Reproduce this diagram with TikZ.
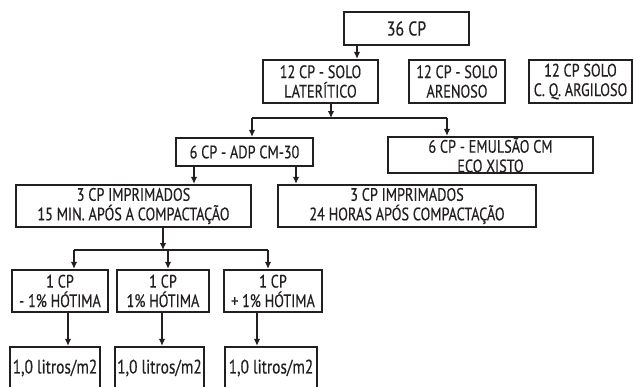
\documentclass[tikz,border=0pt]{standalone}
\usepackage{fontspec}
\setmainfont{PT Sans}[FakeStretch=0.79,FakeBold=0.4]
\usetikzlibrary{arrows.meta}
\definecolor{ink}{HTML}{231F20}

\begin{document}
\begin{tikzpicture}[x=1pt,y=-1pt,line join=miter,
  box/.style={draw=ink,line width=2.2pt,align=center,inner sep=0pt,text=ink,
    font=\fontsize{18}{19.5}\selectfont},
  arr/.style={draw=ink,line width=2pt,-{Latex[length=7pt,width=6.5pt]}},
  link/.style={draw=ink,line width=2pt}]
\useasboundingbox (0,0) rectangle (634,386);

% top rows
\node[box,minimum width=125pt,minimum height=33pt,font=\fontsize{20}{20}\selectfont] (top) at (406.5,28.5) {36 CP};
\node[box,minimum width=115pt,minimum height=43pt] (lat) at (320.5,81.5) {12 CP - SOLO\\LATERÍTICO};
\node[box,minimum width=96pt,minimum height=43pt] (are) at (457,81.5) {12 CP - SOLO\\ARENOSO};
\node[box,minimum width=103pt,minimum height=43pt] (arg) at (580.5,81.5) {12 CP SOLO\\C. Q. ARGILOSO};

\node[box,minimum width=137pt,minimum height=28pt] (adp) at (244.5,152) {6 CP - ADP CM-30};
\node[box,minimum width=205pt,minimum height=36pt] (emu) at (490.5,155) {6 CP - EMULSÃO CM\\ECO XISTO};

\node[box,minimum width=235pt,minimum height=42pt] (m15) at (133.5,206) {3 CP IMPRIMADOS\\15 MIN. APÓS A COMPACTAÇÃO};
\node[box,minimum width=258pt,minimum height=42pt] (h24) at (407,206) {3 CP IMPRIMADOS\\24 HORAS APÓS COMPACTAÇÃO};

% moisture and rate rows
\node[box,minimum width=96pt,minimum height=42pt] (c1) at (60,291) {1 CP\\- 1\% HÓTIMA};
\node[box,minimum width=92pt,minimum height=42pt] (c2) at (163,291) {1 CP\\1\% HÓTIMA};
\node[box,minimum width=98pt,minimum height=42pt] (c3) at (273,291) {1 CP\\+ 1\% HÓTIMA};

\node[box,minimum width=90pt,minimum height=42pt,font=\fontsize{19.5}{20}\selectfont] (l1) at (55,368) {1,0 litros/m2};
\node[box,minimum width=89pt,minimum height=42pt,font=\fontsize{19.5}{20}\selectfont] (l2) at (159.5,368) {1,0 litros/m2};
\node[box,minimum width=92pt,minimum height=42pt,font=\fontsize{19.5}{20}\selectfont] (l3) at (271,368) {1,0 litros/m2};

% arrow columns and splits
\coordinate (k0) at (357,0);
\coordinate (s1) at (331,118);
\coordinate (s1l) at (252,118);
\coordinate (s1r) at (447,118);
\coordinate (k1) at (194,0);
\coordinate (k2) at (296,0);
\coordinate (s2) at (163,250);
\coordinate (s2l) at (74,250);
\coordinate (s2m) at (168,250);
\coordinate (s2r) at (268,250);
\coordinate (k3) at (68,0);
\coordinate (k4) at (162,0);
\coordinate (k5) at (257,0);

\draw[arr] (top.south -| k0) -- (lat.north -| k0);
\draw[arr] (lat.south -| s1) -- (s1);
\draw[link] (s1l) -- (s1r);
\draw[arr] (s1l) -- (adp.north -| s1l);
\draw[arr] (s1r) -- (emu.north -| s1r);
\draw[arr] (adp.south -| k1) -- (m15.north -| k1);
\draw[arr] (adp.south -| k2) -- (h24.north -| k2);
\draw[arr] (m15.south -| s2) -- (s2);
\draw[link] (s2l) -- (s2r);
\draw[arr] (s2l) -- (c1.north -| s2l);
\draw[arr] (s2m) -- (c2.north -| s2m);
\draw[arr] (s2r) -- (c3.north -| s2r);
\draw[arr] (c1.south -| k3) -- (l1.north -| k3);
\draw[arr] (c2.south -| k4) -- (l2.north -| k4);
\draw[arr] (c3.south -| k5) -- (l3.north -| k5);
\end{tikzpicture}
\end{document}
